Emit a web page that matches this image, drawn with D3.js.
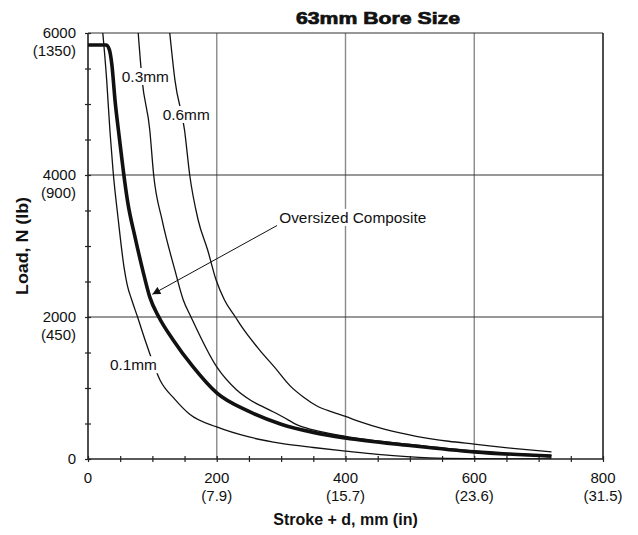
<!DOCTYPE html>
<html><head><meta charset="utf-8">
<script src="https://cdn.jsdelivr.net/npm/d3@7"></script>
<style>body{margin:0;background:#fff}svg{display:block}text{font-family:"Liberation Sans",Arial,sans-serif;fill:#111}</style>
</head><body><svg id="c" width="638" height="535"></svg>
<script>
// ---- data ----
const xTicks = [0, 200, 400, 600, 800];
const xTickInches = ["", "(7.9)", "(15.7)", "(23.6)", "(31.5)"];
const yTicks = [0, 2000, 4000, 6000];
const yTickLbs = ["", "(450)", "(900)", "(1350)"];
const curve01 = [[23,6000],[29,5340],[34,4630],[39,4050],[47,3370],[56,2700],[61,2450],[68,2240],[77,2000],[90,1640],[112,1110],[135,840],[158,630],[200,451],[250,310],[300,220],[350,162],[400,112],[450,65],[530,15],[600,5],[720,0]];
const curve03 = [[78,6000],[84,5340],[96,4630],[102,4000],[115,3370],[135,2660],[148,2240],[160,2000],[200,1296],[231,972],[252,831],[280,700],[303,592],[325,480],[350,410],[400,320],[500,205],[600,112],[720,48]];
const curve06 = [[127,6000],[135,5340],[150,4630],[158,4000],[171,3370],[186,2940],[199,2520],[212,2240],[229,2000],[239,1860],[267,1530],[290,1290],[314,1030],[335,870],[355,750],[380,660],[400,600],[422,525],[460,420],[510,320],[560,250],[600,210],[660,150],[720,100]];
const composite = [[0,5830],[28,5830],[33,5770],[37,5560],[42,5050],[49,4500],[55,4050],[62,3600],[73,3130],[85,2660],[96,2280],[110,2000],[132,1680],[163,1300],[200,930],[250,670],[300,490],[350,375],[400,296],[500,190],[600,100],[720,40]];
const curveLabels = ["0.1mm", "0.3mm", "0.6mm"];
const annotationText = "Oversized Composite";

// ---- layout ----
const svg = d3.select("#c");
const x = d3.scaleLinear().domain([0, 800]).range([88, 603]);
const y = d3.scaleLinear().domain([0, 6000]).range([459, 33]);

svg.append("defs").append("clipPath").attr("id","clip").append("rect")
  .attr("x",88).attr("y",33).attr("width",515).attr("height",426);

// vertical gridlines (grey)
svg.append("g").selectAll("line").data(xTicks.filter(d=>d>0&&d<800)).join("line")
  .attr("x1",d=>x(d)).attr("x2",d=>x(d)).attr("y1",y(6000)).attr("y2",y(0))
  .attr("stroke","#8a8a8a").attr("stroke-width",1.4);
// horizontal gridlines (dark)
svg.append("g").selectAll("line").data(yTicks.filter(d=>d>0)).join("line")
  .attr("x1",x(0)).attr("x2",x(800)).attr("y1",d=>y(d)).attr("y2",d=>y(d))
  .attr("stroke","#333").attr("stroke-width",1.2);
// right border
svg.append("line").attr("x1",x(800)).attr("x2",x(800)).attr("y1",y(6000)).attr("y2",y(0))
  .attr("stroke","#222").attr("stroke-width",1.6);

// axes
const xAxis = d3.axisBottom(x).tickValues(d3.range(0, 801, 50)).tickSize(3).tickFormat("");
const gx = svg.append("g").attr("transform",`translate(0,${y(0)})`).call(xAxis);
gx.selectAll(".tick line").attr("y1",-3).attr("stroke","#222").attr("stroke-width",1.2);
gx.select(".domain").attr("stroke","#222").attr("stroke-width",1.6).attr("d",`M${x(0)},0H${x(800)}`);
const yAxis = d3.axisLeft(y).tickValues(d3.range(0, 6001, 500)).tickSize(3).tickFormat("");
const gy = svg.append("g").attr("transform",`translate(${x(0)},0)`).call(yAxis);
gy.selectAll(".tick line").attr("x1",3).attr("stroke","#222").attr("stroke-width",1.2);
gy.select(".domain").attr("stroke","#222").attr("stroke-width",1.6).attr("d",`M0,${y(0)}V${y(6000)}`);

// tick labels
const xl = svg.append("g").attr("font-size",15).attr("text-anchor","middle");
xTicks.forEach((d,i)=>{
  xl.append("text").attr("x",x(d)).attr("y",y(0)+24).text(d);
  if (xTickInches[i]) xl.append("text").attr("x",x(d)).attr("y",y(0)+42).text(xTickInches[i]);
});
const yl = svg.append("g").attr("font-size",15).attr("text-anchor","end");
yTicks.forEach((d,i)=>{
  yl.append("text").attr("x",x(0)-12).attr("y",y(d)+5).text(d);
  if (yTickLbs[i]) yl.append("text").attr("x",x(0)-12).attr("y",y(d)+23).text(yTickLbs[i]);
});

// titles
svg.append("text").attr("x",378).attr("y",24).attr("text-anchor","middle")
  .attr("font-size",17).attr("font-weight","bold").attr("stroke","#111").attr("stroke-width",0.7)
  .attr("textLength",164).attr("lengthAdjust","spacingAndGlyphs").text("63mm Bore Size");
svg.append("text").attr("x",(x(0)+x(800))/2).attr("y",525).attr("text-anchor","middle")
  .attr("font-size",16).attr("font-weight","bold").text("Stroke + d, mm (in)");
svg.append("text").attr("transform",`translate(28,${(y(0)+y(6000))/2}) rotate(-90)`).attr("text-anchor","middle")
  .attr("font-size",16).attr("font-weight","bold").attr("textLength",98).attr("lengthAdjust","spacingAndGlyphs").text("Load, N (lb)");

// curves
const line = d3.line().x(d=>x(d[0])).y(d=>y(d[1])).curve(d3.curveMonotoneX);
const gc = svg.append("g").attr("clip-path","url(#clip)").attr("fill","none");
[curve01, curve03, curve06].forEach(c=>{
  gc.append("path").attr("d",line(c)).attr("stroke","#111").attr("stroke-width",1.3);
});
gc.append("path").attr("d",line(composite)).attr("stroke","#111").attr("stroke-width",3.6).attr("stroke-linejoin","round");

// labels with white background
function label(txt, dx, dy) {
  const g = svg.append("g");
  const t = g.append("text").attr("x",x(dx)).attr("y",y(dy)).attr("font-size",15.4).text(txt);
  const b = t.node().getBBox();
  g.insert("rect","text").attr("x",b.x-2).attr("y",b.y).attr("width",b.width+4).attr("height",b.height).attr("fill","#fff");
}
label(curveLabels[0], 34, 1250);
label(curveLabels[1], 52.5, 5310);
label(curveLabels[2], 116, 4775);

// annotation
const ad = svg.append("defs");
ad.append("marker").attr("id","ah").attr("viewBox","0 0 10 10").attr("refX",10).attr("refY",5)
  .attr("markerWidth",10).attr("markerHeight",8).attr("markerUnits","userSpaceOnUse").attr("orient","auto")
  .append("path").attr("d","M0,0L10,5L0,10Z").attr("fill","#111");
svg.append("line").attr("x1",x(294)).attr("y1",y(3290)).attr("x2",x(100)).attr("y2",y(2320))
  .attr("stroke","#111").attr("stroke-width",1).attr("marker-end","url(#ah)");
label(annotationText, 297, 3325);
</script></body></html>
